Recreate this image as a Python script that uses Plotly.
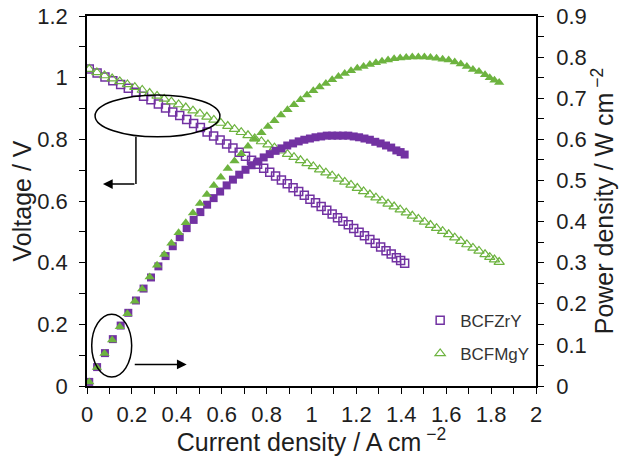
import plotly.graph_objects as go

# ---------------- data ----------------
zry_current = [0.010, 0.045, 0.080, 0.115, 0.150, 0.184, 0.218, 0.252, 0.285, 0.318,
               0.350, 0.382, 0.413, 0.444, 0.475, 0.505, 0.535, 0.564, 0.593, 0.622,
               0.650, 0.678, 0.706, 0.733, 0.760, 0.787, 0.814, 0.840, 0.866, 0.892,
               0.918, 0.943, 0.968, 0.993, 1.018, 1.043, 1.068, 1.092, 1.116, 1.140,
               1.164, 1.188, 1.212, 1.236, 1.260, 1.284, 1.308, 1.332, 1.355, 1.378,
               1.397, 1.415]
zry_voltage = [1.028, 1.015, 1.002, 0.990, 0.978, 0.966, 0.953, 0.940, 0.928, 0.915,
               0.902, 0.889, 0.877, 0.864, 0.851, 0.838, 0.824, 0.811, 0.798, 0.785,
               0.772, 0.758, 0.745, 0.732, 0.719, 0.706, 0.693, 0.681, 0.668, 0.656,
               0.643, 0.631, 0.619, 0.606, 0.594, 0.582, 0.570, 0.558, 0.546, 0.534,
               0.523, 0.511, 0.499, 0.487, 0.475, 0.463, 0.451, 0.439, 0.428, 0.416,
               0.407, 0.398]
zry_power = [0.010, 0.046, 0.080, 0.114, 0.147, 0.178, 0.208, 0.237, 0.264, 0.291,
             0.316, 0.340, 0.362, 0.384, 0.404, 0.423, 0.441, 0.457, 0.473, 0.488,
             0.502, 0.514, 0.526, 0.537, 0.546, 0.556, 0.564, 0.572, 0.578, 0.585,
             0.590, 0.595, 0.599, 0.602, 0.605, 0.607, 0.609, 0.609, 0.609, 0.609,
             0.609, 0.607, 0.605, 0.602, 0.599, 0.594, 0.590, 0.585, 0.580, 0.573,
             0.569, 0.563]

mgy_current = [0.010, 0.044, 0.078, 0.112, 0.146, 0.180, 0.213, 0.246, 0.279, 0.312,
               0.344, 0.376, 0.408, 0.440, 0.472, 0.503, 0.534, 0.565, 0.596, 0.627,
               0.657, 0.687, 0.717, 0.747, 0.777, 0.806, 0.835, 0.864, 0.893, 0.922,
               0.951, 0.980, 1.008, 1.036, 1.064, 1.092, 1.120, 1.148, 1.176, 1.204,
               1.232, 1.260, 1.287, 1.314, 1.341, 1.368, 1.395, 1.422, 1.449, 1.476,
               1.503, 1.530, 1.557, 1.584, 1.611, 1.638, 1.665, 1.692, 1.719, 1.746,
               1.773, 1.794, 1.815, 1.836]
mgy_voltage = [1.028, 1.017, 1.007, 0.997, 0.988, 0.978, 0.969, 0.960, 0.950, 0.941,
               0.931, 0.922, 0.913, 0.903, 0.893, 0.883, 0.873, 0.863, 0.853, 0.843,
               0.833, 0.823, 0.813, 0.803, 0.793, 0.783, 0.773, 0.763, 0.752, 0.742,
               0.732, 0.722, 0.712, 0.702, 0.692, 0.682, 0.672, 0.662, 0.652, 0.642,
               0.631, 0.621, 0.611, 0.601, 0.591, 0.582, 0.572, 0.562, 0.552, 0.542,
               0.532, 0.522, 0.512, 0.502, 0.492, 0.481, 0.470, 0.459, 0.448, 0.438,
               0.427, 0.418, 0.410, 0.402]
mgy_power = [0.010, 0.045, 0.079, 0.112, 0.144, 0.176, 0.206, 0.236, 0.265, 0.294,
             0.320, 0.347, 0.373, 0.397, 0.421, 0.444, 0.466, 0.488, 0.508, 0.529,
             0.547, 0.565, 0.583, 0.600, 0.616, 0.631, 0.645, 0.659, 0.672, 0.684,
             0.696, 0.708, 0.718, 0.727, 0.736, 0.745, 0.753, 0.760, 0.767, 0.773,
             0.777, 0.782, 0.786, 0.790, 0.793, 0.796, 0.798, 0.799, 0.800, 0.800,
             0.800, 0.799, 0.797, 0.795, 0.793, 0.788, 0.783, 0.777, 0.770, 0.765,
             0.757, 0.750, 0.744, 0.738]

series_names = ["BCFZrY", "BCFMgY"]

PURPLE = "#7232A2"
GREEN = "#6DB33F"
FONT = "Liberation Sans, Arial, sans-serif"
TXT = "#1e1e1e"

fig = go.Figure()

fig.add_trace(go.Scatter(
    x=zry_current, y=zry_voltage, mode="markers", name=series_names[0],
    legendgroup="a",
    marker=dict(symbol="square-open", size=8, color=PURPLE, line=dict(width=1.5, color=PURPLE)),
))
fig.add_trace(go.Scatter(
    x=mgy_current, y=mgy_voltage, mode="markers", name=series_names[1],
    legendgroup="b",
    marker=dict(symbol="triangle-up-open", size=9, color=GREEN, line=dict(width=1.2, color=GREEN)),
))
fig.add_trace(go.Scatter(
    x=zry_current, y=zry_power, mode="markers", yaxis="y2", showlegend=False,
    marker=dict(symbol="square", size=8, color=PURPLE),
))
fig.add_trace(go.Scatter(
    x=mgy_current, y=mgy_power, mode="markers", yaxis="y2", showlegend=False,
    marker=dict(symbol="triangle-up", size=9, color=GREEN),
))

def axis_common(standoff):
    return dict(
        showgrid=False, zeroline=False, showline=True, linecolor="black", linewidth=1.5,
        ticks="outside", ticklen=6, tickwidth=1.2, tickcolor="black",
        tickfont=dict(family=FONT, size=22, color=TXT),
        ticklabelstandoff=standoff, automargin=False, ticklabeloverflow="allow",
    )

TITLE_FONT = dict(family=FONT, size=25, color=TXT)

# the page body adds an 8 px offset; the figure is sized to fill the rest of the window
fig.update_layout(
    width=622, height=448,
    margin=dict(l=79, r=94, t=8, b=70),
    paper_bgcolor="white", plot_bgcolor="white",
    font=dict(family=FONT, color=TXT),
    xaxis=dict(
        range=[0, 2], dtick=0.2, mirror=True,
        minor=dict(dtick=0.1, ticks="outside", ticklen=6, tickwidth=1.2, tickcolor="black"),
        title=dict(text="Current density / A cm<sup> −2</sup>", font=TITLE_FONT, standoff=10),
        **axis_common(2),
    ),
    yaxis=dict(
        range=[0, 1.2], dtick=0.2,
        minor=dict(dtick=0.1, ticks="outside", ticklen=6, tickwidth=1.2, tickcolor="black"),
        title=dict(text="Voltage / V", font=TITLE_FONT, standoff=6),
        **axis_common(7),
    ),
    yaxis2=dict(
        range=[0, 0.9], dtick=0.1, overlaying="y", side="right",
        minor=dict(dtick=0.05, ticks="outside", ticklen=6, tickwidth=1.2, tickcolor="black"),
        title=dict(text="Power density / W cm<sup> −2</sup>", font=TITLE_FONT, standoff=10),
        **axis_common(8),
    ),
    legend=dict(
        x=0.742, y=0.225, xanchor="left", yanchor="top",
        bgcolor="rgba(0,0,0,0)", font=dict(family=FONT, size=17, color="#333333"),
        traceorder="grouped", tracegroupgap=8, itemwidth=30,
    ),
    showlegend=True,
)

# annotation ellipses and arrows (data coordinates)
fig.add_shape(type="circle", xref="x", yref="y", x0=0.036, x1=0.592, y0=0.808, y1=0.944,
              line=dict(color="black", width=1.5))
fig.add_shape(type="line", xref="x", yref="y", x0=0.218, x1=0.218, y0=0.808, y1=0.655,
              line=dict(color="black", width=1.5))
fig.add_annotation(x=0.071, y=0.655, ax=0.218, ay=0.655, xref="x", yref="y", axref="x", ayref="y",
                   showarrow=True, arrowhead=2, arrowsize=1.3, arrowwidth=1.5, arrowcolor="black", text="")
fig.add_shape(type="circle", xref="x", yref="y", x0=0.021, x1=0.199, y0=0.029, y1=0.233,
              line=dict(color="black", width=1.5))
fig.add_annotation(x=0.444, y=0.070, ax=0.206, ay=0.070, xref="x", yref="y", axref="x", ayref="y",
                   showarrow=True, arrowhead=2, arrowsize=1.3, arrowwidth=1.5, arrowcolor="black", text="")

fig.write_html("out.html")
